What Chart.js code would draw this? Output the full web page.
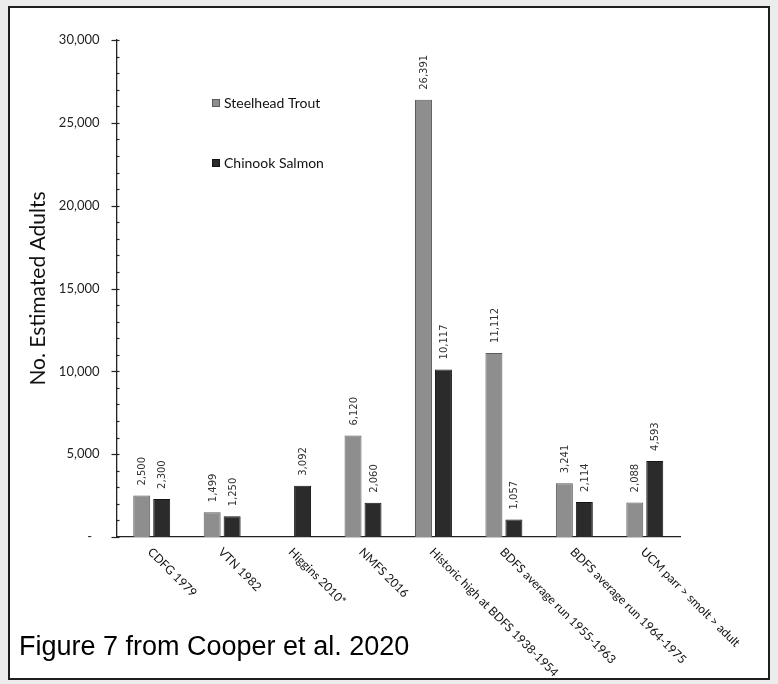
<!DOCTYPE html>
<html>
<head>
<meta charset="utf-8">
<script src="https://cdn.jsdelivr.net/npm/chart.js@4/dist/chart.umd.min.js"></script>
<style>
  html, body { margin: 0; padding: 0; background: #ececec; }
  #wrap { position: relative; width: 778px; height: 684px; }
  #frame {
    position: absolute; left: 8px; top: 6px; width: 758px; height: 670px;
    background: #ffffff; border: 2px solid #1e1e1e;
  }
  #chart { position: absolute; left: 0; top: 0; }
  #caption {
    position: absolute; left: 19px; top: 631px;
    font-family: "Liberation Sans", Arial, sans-serif; font-size: 27px; color: #000;
    white-space: nowrap;
  }
</style>
</head>
<body>
<div id="wrap">
  <div id="frame"></div>
  <canvas id="chart" width="778" height="684"></canvas>
  <div id="caption">Figure 7 from Cooper et al. 2020</div>
</div>
<script>
// Estimated adult returns by source
const categories = [
  "CDFG 1979",
  "VTN 1982",
  "Higgins 2010*",
  "NMFS 2016",
  "Historic high at BDFS 1938-1954",
  "BDFS average run 1955-1963",
  "BDFS average run 1964-1975",
  "UCM parr > smolt > adult"
];
const steelheadTrout = [2500, 1499, null, 6120, 26391, 11112, 3241, 2088];
const chinookSalmon = [2300, 1250, 3092, 2060, 10117, 1057, 2114, 4593];
const seriesNames = ["Steelhead Trout", "Chinook Salmon"];
const yTickStep = 5000;
const yMinorStep = 1000;
const yMax = 30000;
const yTitle = "No. Estimated Adults";

const fmt = v => v.toLocaleString("en-US");

// Small and large tick marks on the value axis
const axisTicks = {
  id: "axisTicks",
  afterDraw(chart) {
    const { ctx } = chart;
    const y = chart.scales.y;
    const ax = chart.chartArea.left;
    ctx.save();
    ctx.strokeStyle = "#222";
    ctx.lineWidth = 1.2;
    for (let v = 0; v <= yMax; v += yMinorStep) {
      const py = Math.round(y.getPixelForValue(v)) + 0.5;
      const major = v % yTickStep === 0;
      ctx.beginPath();
      ctx.moveTo(major ? ax - 5 : ax, py);
      ctx.lineTo(ax + 3, py);
      ctx.stroke();
    }
    ctx.restore();
  }
};

// Vertical value labels above each bar
const barValues = {
  id: "barValues",
  afterDatasetsDraw(chart) {
    const { ctx } = chart;
    ctx.save();
    ctx.font = '10px "DejaVu Sans"';
    ctx.fillStyle = "#333";
    ctx.textAlign = "left";
    ctx.textBaseline = "middle";
    chart.data.datasets.forEach((ds, di) => {
      chart.getDatasetMeta(di).data.forEach((bar, i) => {
        const v = ds.data[i];
        if (v === null || v === undefined) return;
        ctx.save();
        ctx.translate(bar.x + 1, bar.y - 10);
        ctx.rotate(-Math.PI / 2);
        ctx.fillText(fmt(v), 0, 0);
        ctx.restore();
      });
    });
    ctx.restore();
  }
};

// Slanted category labels under the axis
const slantLabels = {
  id: "slantLabels",
  afterDraw(chart) {
    const { ctx } = chart;
    const x = chart.scales.x;
    const base = chart.chartArea.bottom;
    ctx.save();
    ctx.font = '12px Lato';
    ctx.fillStyle = "#111";
    ctx.textAlign = "left";
    ctx.textBaseline = "middle";
    chart.data.labels.forEach((lab, i) => {
      const px = x.getPixelForTick(i);
      ctx.save();
      ctx.translate(px - 2, base + 13);
      ctx.rotate(Math.PI / 4);
      ctx.fillText(lab, 0, 0);
      ctx.restore();
    });
    ctx.restore();
  }
};

// Legend entries stacked inside the plot
const innerLegend = {
  id: "innerLegend",
  afterDraw(chart) {
    const { ctx } = chart;
    const lx = 212, rows = [103, 163];
    ctx.save();
    ctx.font = '14px Lato';
    ctx.textBaseline = "middle";
    ctx.textAlign = "left";
    chart.data.datasets.forEach((ds, i) => {
      const cy = rows[i];
      ctx.fillStyle = ds.backgroundColor;
      ctx.fillRect(lx, cy - 4, 8, 8);
      ctx.strokeStyle = ds.borderColor;
      ctx.lineWidth = 1;
      ctx.strokeRect(lx + 0.5, cy - 3.5, 7, 7);
      ctx.fillStyle = "#111";
      ctx.fillText(ds.label, lx + 12, cy);
    });
    ctx.restore();
  }
};

new Chart(document.getElementById("chart"), {
  type: "bar",
  data: {
    labels: categories,
    datasets: [
      {
        label: seriesNames[0],
        data: steelheadTrout,
        backgroundColor: "#8e8e8e",
        borderColor: "#5a5a5a",
        borderWidth: 1
      },
      {
        label: seriesNames[1],
        data: chinookSalmon,
        backgroundColor: "#2b2b2b",
        borderColor: "#141414",
        borderWidth: 1
      }
    ]
  },
  options: {
    responsive: false,
    animation: false,
    events: [],
    barPercentage: 0.85,
    categoryPercentage: 0.567,
    layout: { padding: { left: 0, top: 40, right: 98, bottom: 0 } },
    plugins: {
      legend: { display: false },
      tooltip: { enabled: false }
    },
    scales: {
      x: {
        type: "category",
        offset: true,
        grid: { display: false, drawTicks: false },
        border: { display: true, color: "#222", width: 1.3 },
        ticks: { display: false },
        afterFit(s) { s.height = 147; }
      },
      y: {
        min: 0,
        max: yMax,
        ticks: {
          stepSize: yTickStep,
          padding: 17,
          color: "#222",
          font: { family: "Lato", size: 13 },
          callback: v => (v === 0 ? "-\u2007" : fmt(v))
        },
        grid: { display: false, drawTicks: false },
        border: { display: true, color: "#222", width: 1.3 },
        title: {
          display: true,
          text: yTitle,
          color: "#111",
          font: { family: "Lato", size: 21 },
          padding: { top: 26, bottom: 0 }
        },
        afterFit(s) { s.width = 116.5; }
      }
    }
  },
  plugins: [axisTicks, barValues, slantLabels, innerLegend]
});
</script>
</body>
</html>
